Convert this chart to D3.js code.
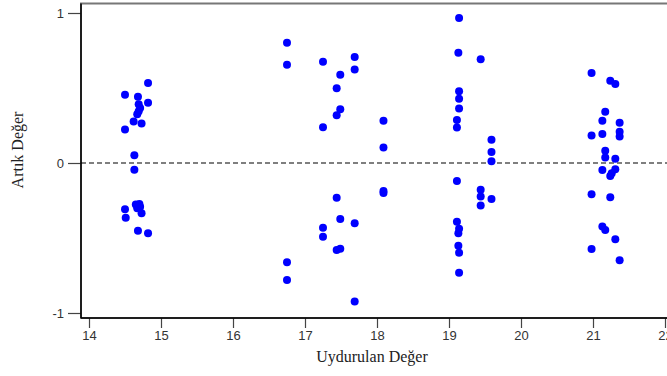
<!DOCTYPE html>
<html>
<head>
<meta charset="utf-8">
<script src="https://cdn.jsdelivr.net/npm/d3@7"></script>
<style>
  html, body { margin: 0; padding: 0; background: #fff; overflow: hidden; }
  svg { display: block; }
</style>
</head>
<body>
<svg id="chart" width="667" height="376"></svg>
<script>
// Fitted values (x) and residuals (y)
const fittedValues = [
  14.82, 14.50, 14.68, 14.82, 14.69, 14.71, 14.69, 14.67, 14.62, 14.73, 14.50,
  14.63, 14.63, 14.65, 14.70, 14.71, 14.67, 14.73, 14.50, 14.51, 14.68, 14.82,
  16.75, 16.75, 17.25, 17.69, 17.69, 17.49, 17.44, 17.49, 17.44, 17.25, 18.09,
  18.09, 18.09, 18.09, 17.44, 17.49, 17.69, 17.25, 17.25, 17.44, 17.49, 16.75,
  16.75, 17.69,
  19.14, 19.13, 19.44, 19.14, 19.14, 19.14, 19.11, 19.11, 19.59, 19.59, 19.59,
  19.11, 19.44, 19.44, 19.59, 19.44, 19.11, 19.14, 19.13, 19.13, 19.14, 19.14,
  20.98, 21.24, 21.31, 21.17, 21.13, 21.37, 21.37, 20.98, 21.13, 21.37, 21.17,
  21.17, 21.31, 21.13, 21.31, 21.26, 21.24, 20.98, 21.24, 21.13, 21.17, 21.31,
  20.98, 21.37
];
const residuals = [
  0.533, 0.455, 0.442, 0.402, 0.391, 0.367, 0.345, 0.325, 0.276, 0.264, 0.224,
  0.051, -0.045, -0.276, -0.273, -0.291, -0.302, -0.335, -0.309, -0.365, -0.451, -0.469,
  0.802, 0.655, 0.675, 0.707, 0.624, 0.589, 0.498, 0.358, 0.318, 0.238, 0.282,
  0.104, -0.186, -0.200, -0.231, -0.373, -0.402, -0.431, -0.491, -0.580, -0.571, -0.662,
  -0.780, -0.924,
  0.967, 0.735, 0.691, 0.478, 0.429, 0.364, 0.287, 0.236, 0.155, 0.073, 0.011,
  -0.120, -0.178, -0.224, -0.240, -0.284, -0.391, -0.438, -0.469, -0.551, -0.598, -0.731,
  0.600, 0.549, 0.527, 0.342, 0.282, 0.269, 0.209, 0.184, 0.193, 0.176, 0.082,
  0.036, 0.029, -0.047, -0.042, -0.069, -0.087, -0.209, -0.229, -0.424, -0.447, -0.509,
  -0.573, -0.649
];
const xTicks = [14, 15, 16, 17, 18, 19, 20, 21, 22];
const yTicks = [-1, 0, 1];
const xTitle = "Uydurulan Değer";
const yTitle = "Artık Değer";

const svg = d3.select("#chart");
const frame = { left: 81, right: 676, top: 3.5, bottom: 318 };

const x = d3.scaleLinear().domain([14, 22]).range([89, 665]);
const y = d3.scaleLinear().domain([-1, 1]).range([313, 13]);

// Frame: top and right grey, left/bottom black
svg.append("rect")
  .attr("x", frame.left).attr("y", frame.top)
  .attr("width", frame.right - frame.left).attr("height", frame.bottom - frame.top)
  .attr("fill", "#fff").attr("stroke", "#777").attr("stroke-width", 2);

// zero reference line
svg.append("line")
  .attr("x1", frame.left).attr("x2", frame.right)
  .attr("y1", y(0)).attr("y2", y(0))
  .attr("stroke", "#000").attr("stroke-width", 1.2)
  .attr("stroke-dasharray", "5,3");

// points
svg.append("g").selectAll("circle")
  .data(fittedValues.map((v, i) => [v, residuals[i]]))
  .join("circle")
  .attr("cx", d => x(d[0]))
  .attr("cy", d => y(d[1]))
  .attr("r", 4)
  .attr("fill", "#0000ff");

// X axis
const xAxis = d3.axisBottom(x).tickValues(xTicks).tickSize(10).tickPadding(3).tickSizeOuter(0);
const gx = svg.append("g").attr("transform", `translate(0,${frame.bottom})`).call(xAxis);
gx.select(".domain").remove();
gx.append("line").attr("x1", frame.left).attr("x2", frame.right).attr("y1", 0).attr("y2", 0)
  .attr("stroke", "#000").attr("stroke-width", 1.5);
gx.selectAll(".tick line").attr("stroke", "#444").attr("stroke-width", 1.2);
gx.selectAll(".tick text").attr("font-family", "Liberation Sans, Arial, sans-serif")
  .attr("font-size", 13).attr("fill", "#333");

// Y axis
const yAxis = d3.axisLeft(y).tickValues(yTicks).tickSize(13).tickPadding(4).tickSizeOuter(0)
  .tickFormat(d => String(d));
const gy = svg.append("g").attr("transform", `translate(${frame.left},0)`).call(yAxis);
gy.select(".domain").remove();
gy.append("line").attr("x1", 0).attr("x2", 0).attr("y1", frame.top).attr("y2", frame.bottom)
  .attr("stroke", "#000").attr("stroke-width", 1.5);
gy.selectAll(".tick line").attr("stroke", "#444").attr("stroke-width", 1.2);
gy.selectAll(".tick text").attr("font-family", "Liberation Sans, Arial, sans-serif")
  .attr("font-size", 13).attr("fill", "#333");

// Titles
svg.append("text")
  .attr("x", 372).attr("y", 362)
  .attr("text-anchor", "middle")
  .attr("font-family", "Liberation Serif, Times New Roman, serif")
  .attr("font-size", 16).attr("fill", "#222")
  .text(xTitle);

svg.append("text")
  .attr("transform", "translate(23,150) rotate(-90)")
  .attr("text-anchor", "middle")
  .attr("font-family", "Liberation Serif, Times New Roman, serif")
  .attr("font-size", 16).attr("fill", "#222")
  .text(yTitle);
</script>
</body>
</html>
